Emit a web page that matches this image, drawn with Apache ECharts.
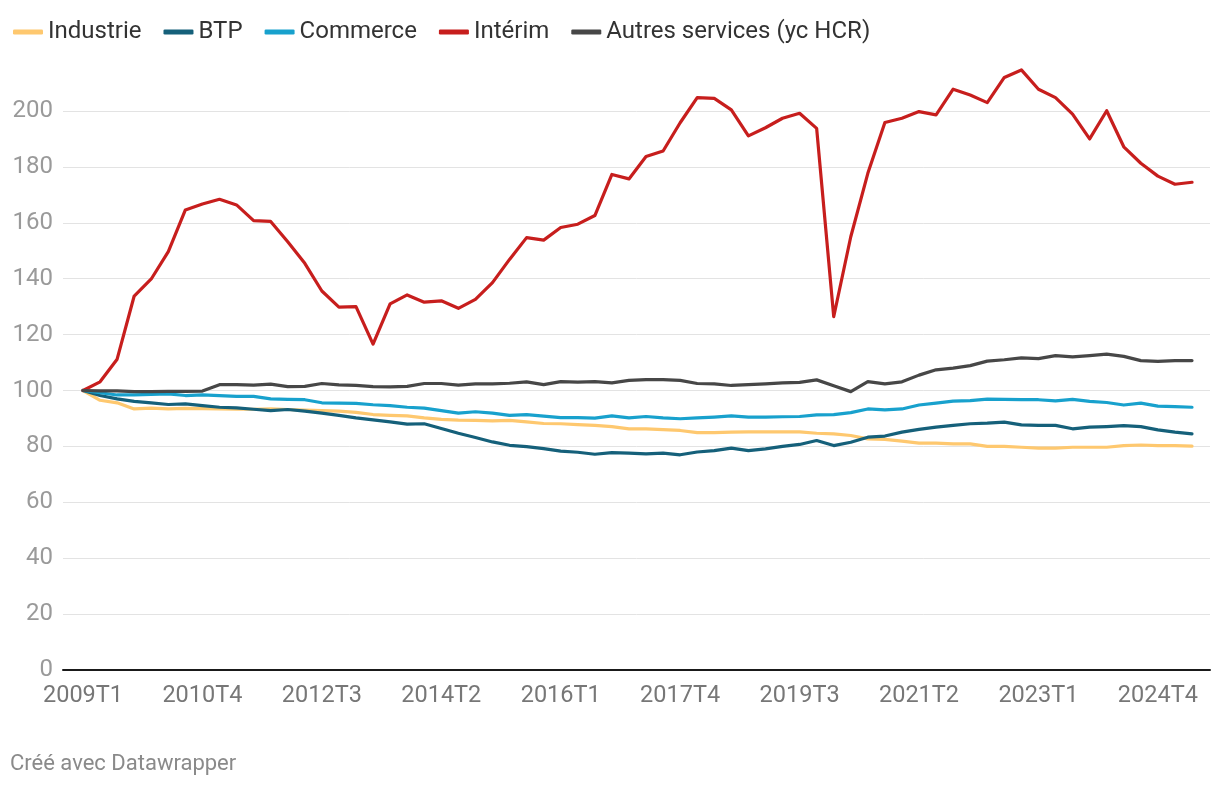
<!DOCTYPE html>
<html>
<head>
<meta charset="utf-8">
<script src="https://cdn.jsdelivr.net/npm/echarts@6/dist/echarts.min.js"></script>
<style>
html,body{margin:0;padding:0;background:#fff;}
#chart{width:1220px;height:786px;}
</style>
</head>
<body>
<div id="chart"></div>
<script>
var quarters = ["2009T1","2009T2","2009T3","2009T4","2010T1","2010T2","2010T3","2010T4",
"2011T1","2011T2","2011T3","2011T4","2012T1","2012T2","2012T3","2012T4",
"2013T1","2013T2","2013T3","2013T4","2014T1","2014T2","2014T3","2014T4",
"2015T1","2015T2","2015T3","2015T4","2016T1","2016T2","2016T3","2016T4",
"2017T1","2017T2","2017T3","2017T4","2018T1","2018T2","2018T3","2018T4",
"2019T1","2019T2","2019T3","2019T4","2020T1","2020T2","2020T3","2020T4",
"2021T1","2021T2","2021T3","2021T4","2022T1","2022T2","2022T3","2022T4",
"2023T1","2023T2","2023T3","2023T4","2024T1","2024T2","2024T3","2024T4",
"2025T1","2025T2"];

var industrie = [100,96.5,95.6,93.4,93.7,93.4,93.6,93.5,93.4,93.3,93.3,93.4,93.2,93.0,92.8,92.6,
92.2,91.4,91.1,90.9,90.2,89.7,89.4,89.3,89.1,89.3,88.8,88.2,88.1,87.8,87.5,87.1,
86.3,86.3,86.0,85.7,84.9,84.9,85.1,85.2,85.2,85.2,85.2,84.7,84.5,83.9,82.7,82.5,
81.9,81.2,81.2,80.9,80.9,80.0,80.0,79.7,79.4,79.4,79.7,79.7,79.7,80.3,80.5,80.3,
80.3,80.1];

var btp = [100,98.2,97.0,96.1,95.6,95.0,95.2,94.6,94.0,93.8,93.3,92.8,93.2,92.6,91.9,91.1,
90.2,89.5,88.8,88.0,88.1,86.4,84.7,83.2,81.6,80.4,79.9,79.2,78.3,77.9,77.2,77.8,
77.6,77.3,77.6,77.0,78.0,78.5,79.4,78.5,79.1,80.0,80.7,82.1,80.3,81.5,83.3,83.7,
85.1,86.1,86.9,87.5,88.1,88.3,88.7,87.7,87.5,87.5,86.3,86.9,87.1,87.4,87.1,85.9,
85.1,84.5];

var commerce = [100,99.2,98.4,98.4,98.6,98.8,98.2,98.4,98.2,97.9,97.9,97.0,96.8,96.7,95.6,95.5,
95.4,94.9,94.6,94.0,93.7,92.8,91.9,92.4,91.9,91.1,91.4,90.8,90.3,90.3,90.1,90.9,
90.2,90.7,90.2,89.9,90.2,90.5,90.9,90.5,90.5,90.6,90.7,91.3,91.4,92.1,93.4,93.1,
93.4,94.8,95.5,96.2,96.4,96.9,96.8,96.7,96.7,96.3,96.8,96.1,95.7,94.8,95.5,94.4,
94.2,94.0];

var interim = [100,103.1,111.2,133.8,139.9,149.7,164.6,166.7,168.4,166.4,160.8,160.5,153.2,145.5,135.6,129.8,
130.0,116.6,131.0,134.2,131.6,132.1,129.4,132.6,138.6,146.9,154.7,153.8,158.3,159.5,162.6,177.3,
175.7,183.7,185.7,195.8,204.8,204.5,200.4,191.1,194.0,197.4,199.2,193.8,126.4,155.0,177.7,195.9,
197.4,199.8,198.6,207.8,205.7,203.0,212.0,214.7,207.8,204.8,198.9,190.0,200.1,187.2,181.3,176.7,
173.8,174.5];

var autres = [100,99.9,99.9,99.6,99.6,99.7,99.7,99.8,102.1,102.1,101.9,102.3,101.4,101.5,102.5,102.0,
101.8,101.4,101.3,101.5,102.5,102.5,101.9,102.4,102.4,102.6,103.1,102.1,103.2,103.0,103.2,102.7,
103.6,103.9,103.9,103.6,102.5,102.4,101.8,102.1,102.4,102.7,102.9,103.8,101.7,99.6,103.2,102.4,
103.1,105.5,107.4,108.0,108.9,110.5,111.0,111.7,111.4,112.5,112.0,112.5,113.0,112.2,110.7,110.4,
110.7,110.7];

var seriesNames = ["Industrie","BTP","Commerce","Intérim","Autres services (yc HCR)"];
var seriesColors = ["#fec86f","#15607a","#18a1cd","#c71e1d","#474747"];
var seriesData = [industrie, btp, commerce, interim, autres];

var chart = echarts.init(document.getElementById('chart'), null, {renderer:'canvas'});
var FONT = 'Roboto, "Noto Sans", sans-serif';

var series = seriesNames.map(function(n, i){
  return {
    name: n, type: 'line', xAxisIndex: 1, yAxisIndex: 1,
    data: seriesData[i], symbol: 'none', showSymbol: false, clip: false,
    lineStyle: {color: seriesColors[i], width: 3.2, join: 'round', cap: 'round'},
    itemStyle: {color: seriesColors[i]},
    emphasis: {disabled: true}
  };
});

chart.setOption({
  animation: false,
  backgroundColor: '#fff',
  textStyle: {fontFamily: FONT},
  legend: {
    left: 8, top: 15, itemWidth: 30, itemHeight: 5, itemGap: 22,
    icon: 'roundRect',
    textStyle: {fontFamily: FONT, fontSize: 24, color: '#333'},
    data: seriesNames
  },
  grid: [
    {left: 63, right: 10, top: 111, bottom: 116, containLabel: false},
    {left: 83, right: 28, top: 111, bottom: 116, containLabel: false}
  ],
  xAxis: [
    {type: 'value', gridIndex: 0, min: 0, max: 1, show: true,
     axisLine: {show: true, lineStyle: {color: '#1a1a1a', width: 2}},
     axisTick: {show: false}, axisLabel: {show: false}, splitLine: {show: false}},
    {type: 'category', gridIndex: 1, data: quarters, boundaryGap: false,
     axisLine: {show: false}, axisTick: {show: false}, splitLine: {show: false},
     axisLabel: {interval: 6, margin: 14, fontSize: 23.5, color: '#777', fontFamily: FONT}}
  ],
  yAxis: [
    {type: 'value', gridIndex: 0, min: 0, max: 200, interval: 20,
     axisLine: {show: false}, axisTick: {show: false},
     axisLabel: {margin: 10, fontSize: 24, color: '#9a9a9a', fontFamily: FONT},
     splitLine: {show: true, lineStyle: {color: '#e3e3e3', width: 1}}},
    {type: 'value', gridIndex: 1, min: 0, max: 200, show: false, splitLine: {show: false}}
  ],
  graphic: [{
    type: 'text', left: 10, top: 753,
    style: {text: 'Créé avec Datawrapper', font: '22px ' + FONT, fill: '#8a8a8a'}
  }],
  series: series
});
</script>
</body>
</html>
